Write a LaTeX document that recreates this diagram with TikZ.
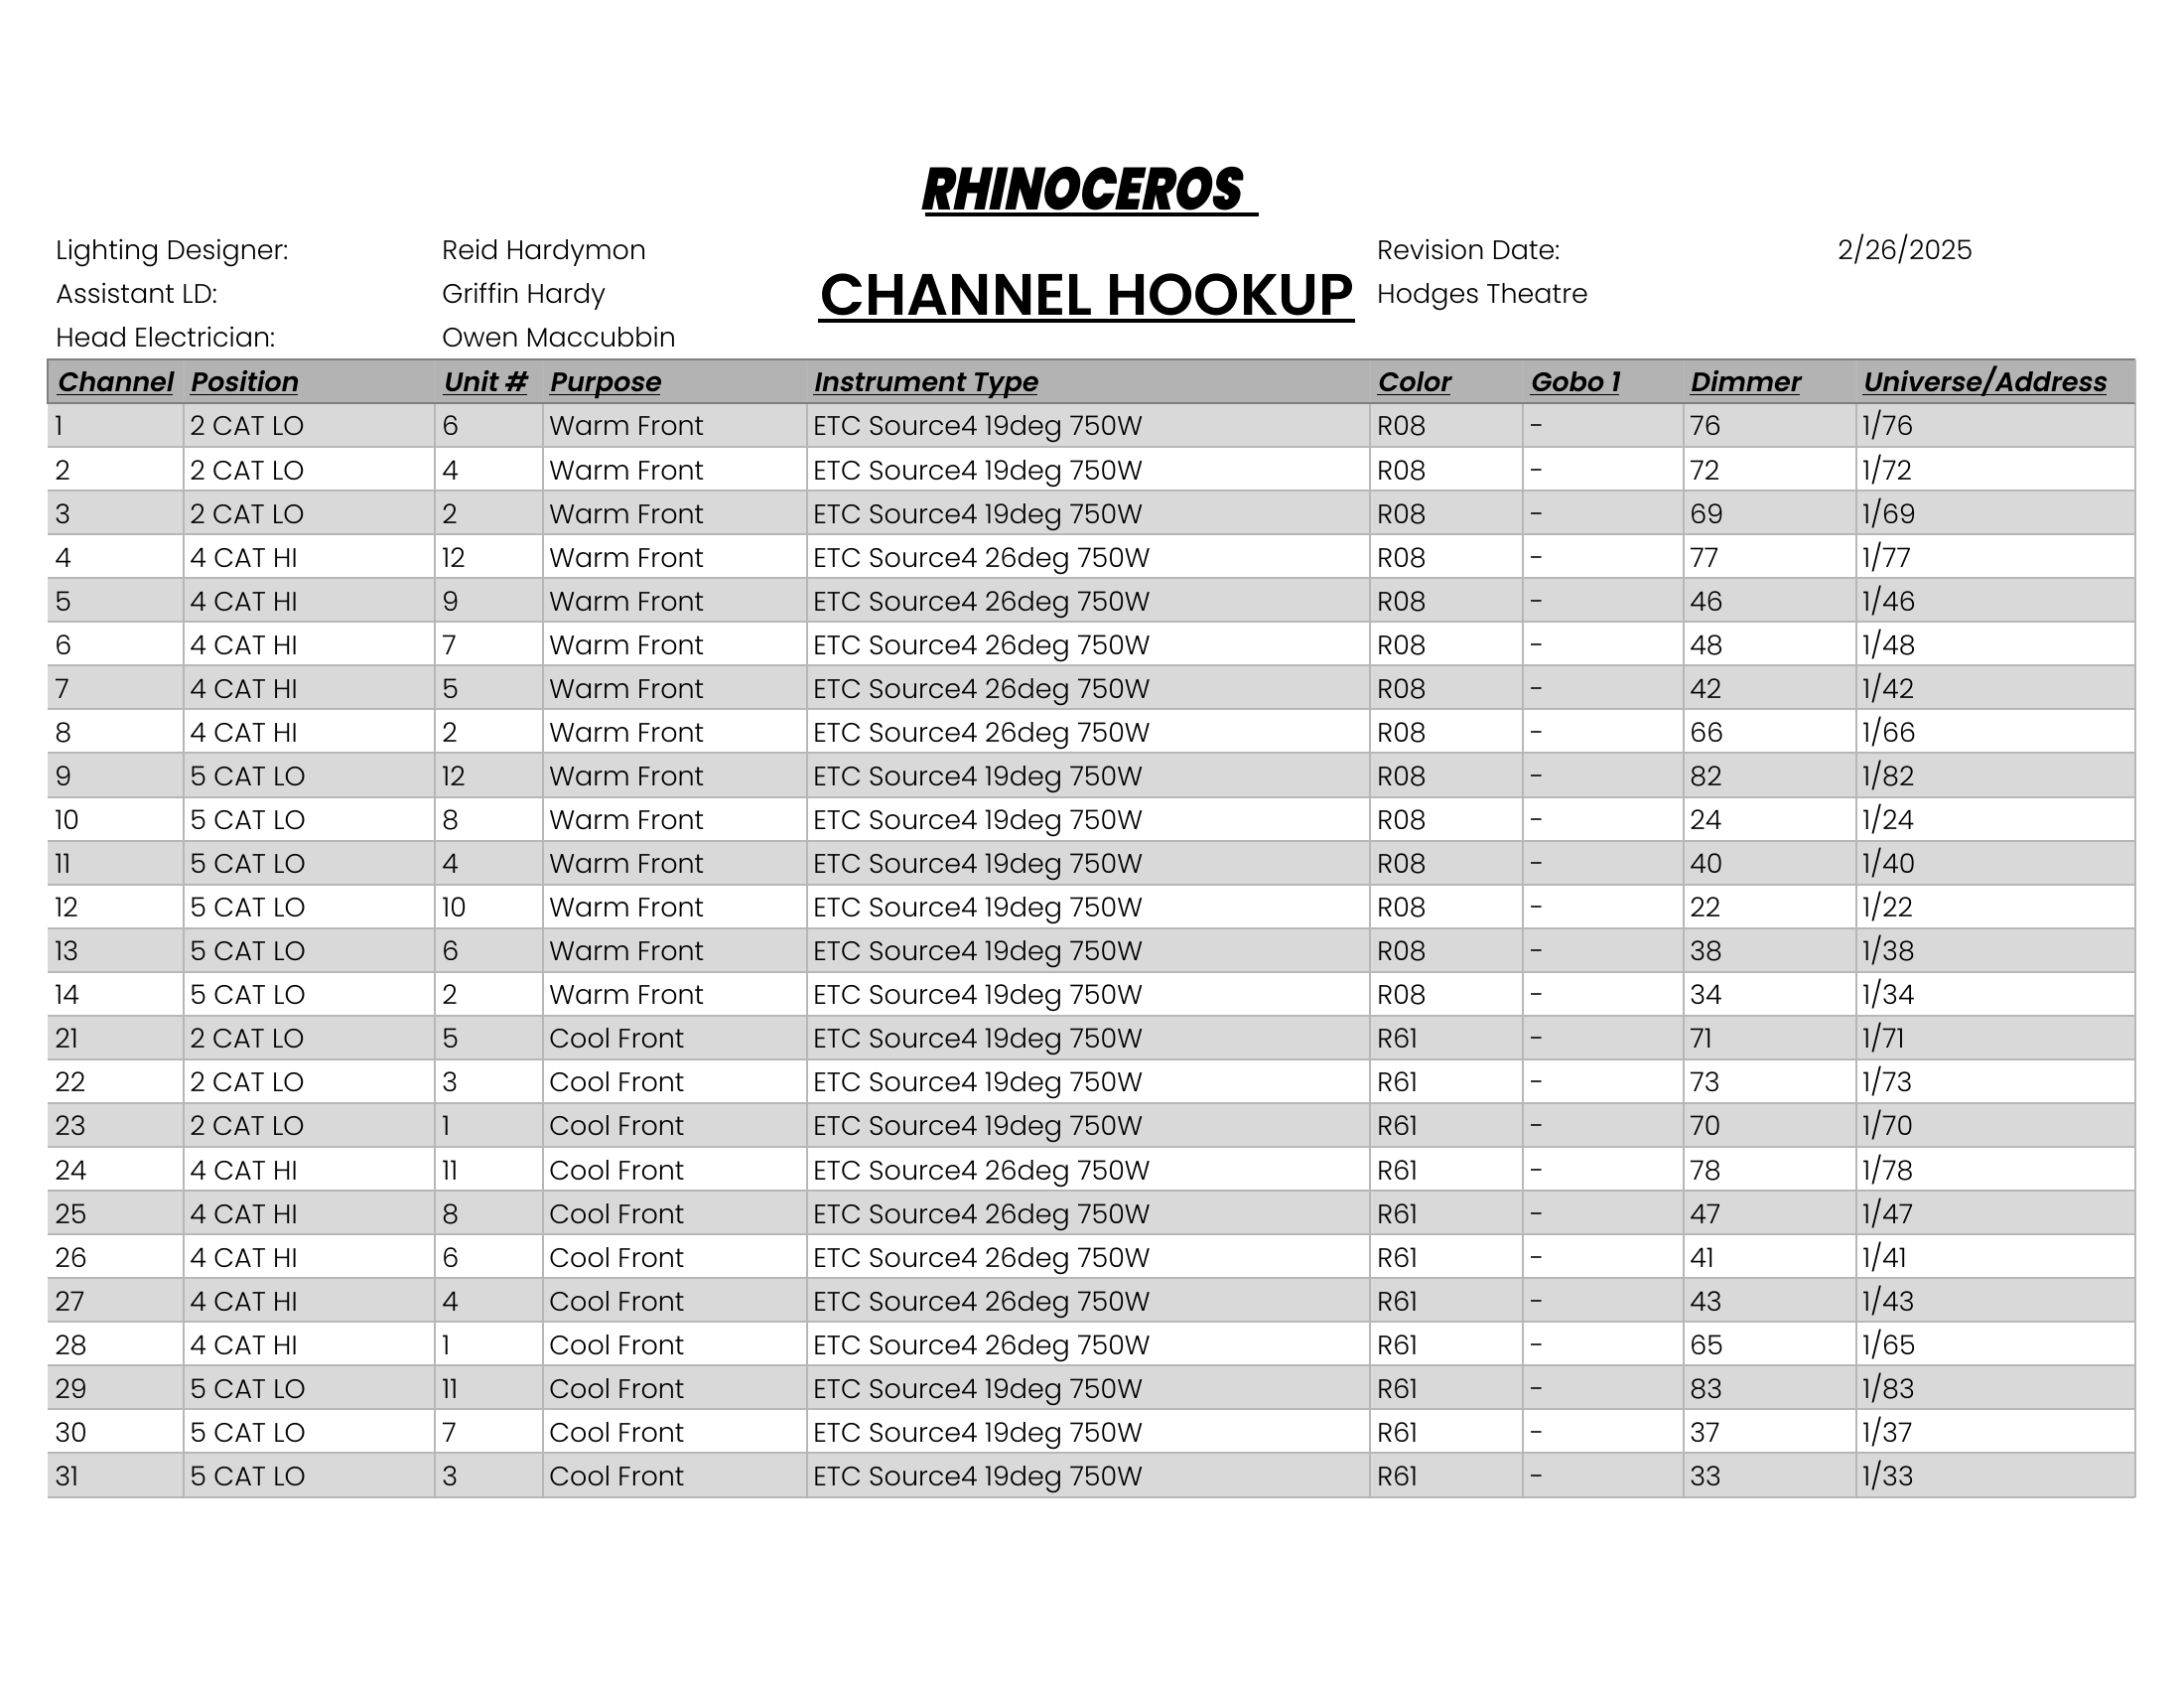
\documentclass[tikz,border=0pt]{standalone}
\usepackage{fontspec}
\setmainfont{Poppins Light}
\newfontfamily\headfont{Poppins SemiBold}[FakeStretch=1.0,FakeSlant=0.18]
\newfontfamily\titlefont{Poppins SemiBold}
\newfontfamily\showfont{Poppins Black}[FakeStretch=0.8,FakeSlant=0.2]
\newcounter{hookrownum}
\newcommand\hookcell[3]{\node[celltext] (r\arabic{hookrownum}c#1) at (#2,\hooky) {#3};}
\newcommand\hookrow[9]{%
  \stepcounter{hookrownum}%
  \pgfmathsetmacro\hooky{406+44.06*(\arabic{hookrownum}-1)+33}%
  \hookcell{1}{55}{#1}\hookcell{2}{191}{#2}\hookcell{3}{445}{#3}\hookcell{4}{553}{#4}%
  \hookcell{5}{819}{#5}\hookcell{6}{1387}{#6}\hookcell{7}{1541}{#7}\hookcell{8}{1702}{#8}\hookcell{9}{1876}{#9}%
}
\newcommand\hookhead[3]{\node[headtext] (h#1) at (#2,395) {\underline{\smash{#3}}};}
\tikzset{
  celltext/.style={anchor=base west,inner sep=0pt,font=\fontsize{13.5}{15}\selectfont,text=black},
  headtext/.style={anchor=base west,inner sep=0pt,font=\headfont\fontsize{13.5}{15}\selectfont,text=black},
  infotext/.style={anchor=base west,inner sep=0pt,font=\fontsize{13.5}{15}\selectfont,text=black},
  gridline/.style={draw=gridgray,line width=1pt},
  headline/.style={draw=headgray,line width=1.3pt},
}
\definecolor{gridgray}{HTML}{B7B7B7}
\definecolor{headgray}{HTML}{7F7F7F}
\definecolor{headfill}{HTML}{B3B3B3}
\definecolor{rowfill}{HTML}{D9D9D9}
\begin{document}
\begin{tikzpicture}[x=0.5pt,y=-0.5pt]
\useasboundingbox[fill=white] (0,0) rectangle (2200,1700);
% bands
\fill[headfill] (48,362) rectangle (2151,406);
\foreach \i in {0,2,...,24}{\fill[rowfill] (48,406+44.06*\i) rectangle (2151,450.06+44.06*\i);}
% rules
\foreach \i in {1,...,25}{\draw[gridline] (48,406+44.06*\i) -- (2151,406+44.06*\i);}
\foreach \x in {185,438,547,813,1380,1534,1696,1870,2151}{\draw[gridline] (\x,362) -- (\x,1508);}
\draw[headline] (2151,406) -- (48,406) -- (48,362) -- (2151,362);
\draw[gridline] (2151,362) -- (2151,406);
% titles
\node[anchor=base west,inner sep=0pt,font=\showfont\fontsize{30}{32}\selectfont] (show) at (926,212) {RHINOCEROS};
\draw[line width=2pt] (932,216) -- (1268,216);
\node[anchor=base west,inner sep=0pt,font=\titlefont\fontsize{29.4}{31}\selectfont] (sheet) at (826,318) {CHANNEL HOOKUP};
\draw[line width=2pt] (824,323) -- (1365,323);
% info
\node[infotext] (i1) at (56,262) {Lighting Designer:};
\node[infotext] (i2) at (56,306) {Assistant LD:};
\node[infotext] (i3) at (56,350) {Head Electrician:};
\node[infotext] (i4) at (445,262) {Reid Hardymon};
\node[infotext] (i5) at (445,306) {Griffin Hardy};
\node[infotext] (i6) at (445,350) {Owen Maccubbin};
\node[infotext] (i7) at (1387,262) {Revision Date:};
\node[infotext] (i8) at (1387,306) {Hodges Theatre};
\node[infotext] (i9) at (1851,262) {2/26/2025};
% header
\hookhead{1}{57}{Channel}\hookhead{2}{191}{Position}\hookhead{3}{446}{Unit \#}\hookhead{4}{553}{Purpose}
\hookhead{5}{819}{Instrument Type}\hookhead{6}{1387}{Color}\hookhead{7}{1541}{Gobo 1}\hookhead{8}{1702}{Dimmer}\hookhead{9}{1876}{Universe/Address}
% rows
\def\wf{Warm Front}\def\cf{Cool Front}\def\ss{ETC Source4 19deg 750W}\def\sw{ETC Source4 26deg 750W}
\hookrow{1}{2 CAT LO}{6}{\wf}{\ss}{R08}{-}{76}{1/76}
\hookrow{2}{2 CAT LO}{4}{\wf}{\ss}{R08}{-}{72}{1/72}
\hookrow{3}{2 CAT LO}{2}{\wf}{\ss}{R08}{-}{69}{1/69}
\hookrow{4}{4 CAT HI}{12}{\wf}{\sw}{R08}{-}{77}{1/77}
\hookrow{5}{4 CAT HI}{9}{\wf}{\sw}{R08}{-}{46}{1/46}
\hookrow{6}{4 CAT HI}{7}{\wf}{\sw}{R08}{-}{48}{1/48}
\hookrow{7}{4 CAT HI}{5}{\wf}{\sw}{R08}{-}{42}{1/42}
\hookrow{8}{4 CAT HI}{2}{\wf}{\sw}{R08}{-}{66}{1/66}
\hookrow{9}{5 CAT LO}{12}{\wf}{\ss}{R08}{-}{82}{1/82}
\hookrow{10}{5 CAT LO}{8}{\wf}{\ss}{R08}{-}{24}{1/24}
\hookrow{11}{5 CAT LO}{4}{\wf}{\ss}{R08}{-}{40}{1/40}
\hookrow{12}{5 CAT LO}{10}{\wf}{\ss}{R08}{-}{22}{1/22}
\hookrow{13}{5 CAT LO}{6}{\wf}{\ss}{R08}{-}{38}{1/38}
\hookrow{14}{5 CAT LO}{2}{\wf}{\ss}{R08}{-}{34}{1/34}
\hookrow{21}{2 CAT LO}{5}{\cf}{\ss}{R61}{-}{71}{1/71}
\hookrow{22}{2 CAT LO}{3}{\cf}{\ss}{R61}{-}{73}{1/73}
\hookrow{23}{2 CAT LO}{1}{\cf}{\ss}{R61}{-}{70}{1/70}
\hookrow{24}{4 CAT HI}{11}{\cf}{\sw}{R61}{-}{78}{1/78}
\hookrow{25}{4 CAT HI}{8}{\cf}{\sw}{R61}{-}{47}{1/47}
\hookrow{26}{4 CAT HI}{6}{\cf}{\sw}{R61}{-}{41}{1/41}
\hookrow{27}{4 CAT HI}{4}{\cf}{\sw}{R61}{-}{43}{1/43}
\hookrow{28}{4 CAT HI}{1}{\cf}{\sw}{R61}{-}{65}{1/65}
\hookrow{29}{5 CAT LO}{11}{\cf}{\ss}{R61}{-}{83}{1/83}
\hookrow{30}{5 CAT LO}{7}{\cf}{\ss}{R61}{-}{37}{1/37}
\hookrow{31}{5 CAT LO}{3}{\cf}{\ss}{R61}{-}{33}{1/33}
\end{tikzpicture}
\end{document}
